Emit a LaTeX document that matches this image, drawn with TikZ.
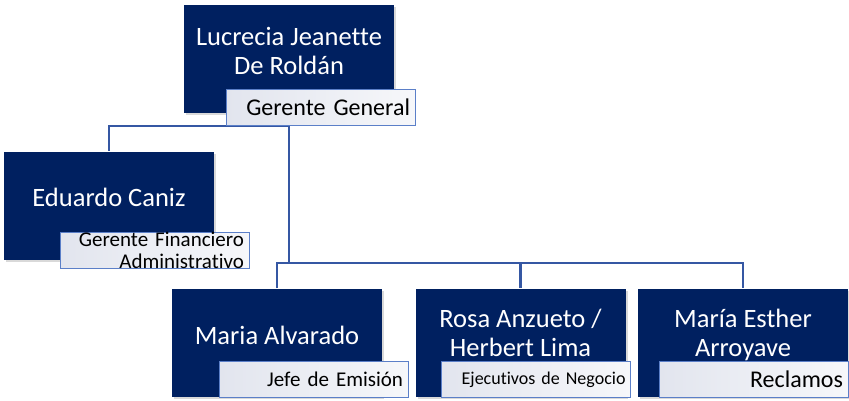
\documentclass[tikz,border=0pt]{standalone}
\usepackage{fontspec}
\setmainfont{Carlito}[Ligatures={NoCommon}]
\usetikzlibrary{shadows,backgrounds}
\definecolor{navy}{HTML}{002060}
\definecolor{connc}{HTML}{3557A3}
\definecolor{lblborder}{HTML}{5B7FC8}
\definecolor{lblleft}{HTML}{E2E5EE}
\definecolor{lblright}{HTML}{F6F7FA}
\begin{document}
\begin{tikzpicture}[x=1pt,y=-1pt,
  person/.style={fill=navy, minimum width=210pt, minimum height=108pt, inner sep=0pt,
    drop shadow={opacity=0.3, shadow xshift=2pt, shadow yshift=-2pt}},
  pname/.style={text=white, align=center, font=\fontsize{26.5}{29}\selectfont, inner sep=0pt},
  role/.style={draw=lblborder, line width=1pt, left color=lblleft, right color=lblright,
    minimum width=189pt, minimum height=36pt, text width=179pt, inner xsep=5pt, inner ysep=0pt,
    align=right, text=black},
  link/.style={draw=connc, line width=2.3pt}]
\useasboundingbox (0,0) rectangle (849,400);

\node[person] (b1) at (289,59) {};
\node[pname] (n1) at (289,51) {Lucrecia Jeanette\\De Roldán};
\node[role, font=\fontsize{24}{28}\selectfont] (r1) at (320.5,107) {Gerente General};

\node[person] (b2) at (109,205.5) {};
\node[pname] (n2) at (109,197) {Eduardo Caniz};
\node[role, font=\fontsize{21}{22}\selectfont] (r2) at (154.5,250.5) {Gerente Financiero\\Administrativo};

\node[person] (b3) at (277,342.5) {};
\node[pname] (n3) at (277,335) {Maria Alvarado};
\node[role, font=\fontsize{21}{24}\selectfont] (r3) at (313.5,379.5) {Jefe de Emisión};

\node[person] (b4) at (520.5,342.5) {};
\node[pname] (n4) at (520.5,333) {Rosa Anzueto /\\Herbert Lima};
\node[role, font=\fontsize{18}{22}\selectfont] (r4) at (536,379.5) {Ejecutivos de Negocio};

\node[person] (b5) at (743,342.5) {};
\node[pname] (n5) at (743,335) {María Esther\\Arroyave};
\node[role, font=\fontsize{24}{28}\selectfont] (r5) at (753.5,379.5) {Reclamos};

\coordinate (j1) at (289,126);
\coordinate (j2) at (289,263);
\begin{scope}[on background layer]
\draw[link] (b1.south) -- (j1) -| (b2.north);
\draw[link] (j1) -- (j2);
\draw[link] (b3.north) |- (j2 -| b5.north) -- (b5.north);
\draw[link] (j2 -| b4.north) -- (b4.north);
\end{scope}
\end{tikzpicture}
\end{document}
